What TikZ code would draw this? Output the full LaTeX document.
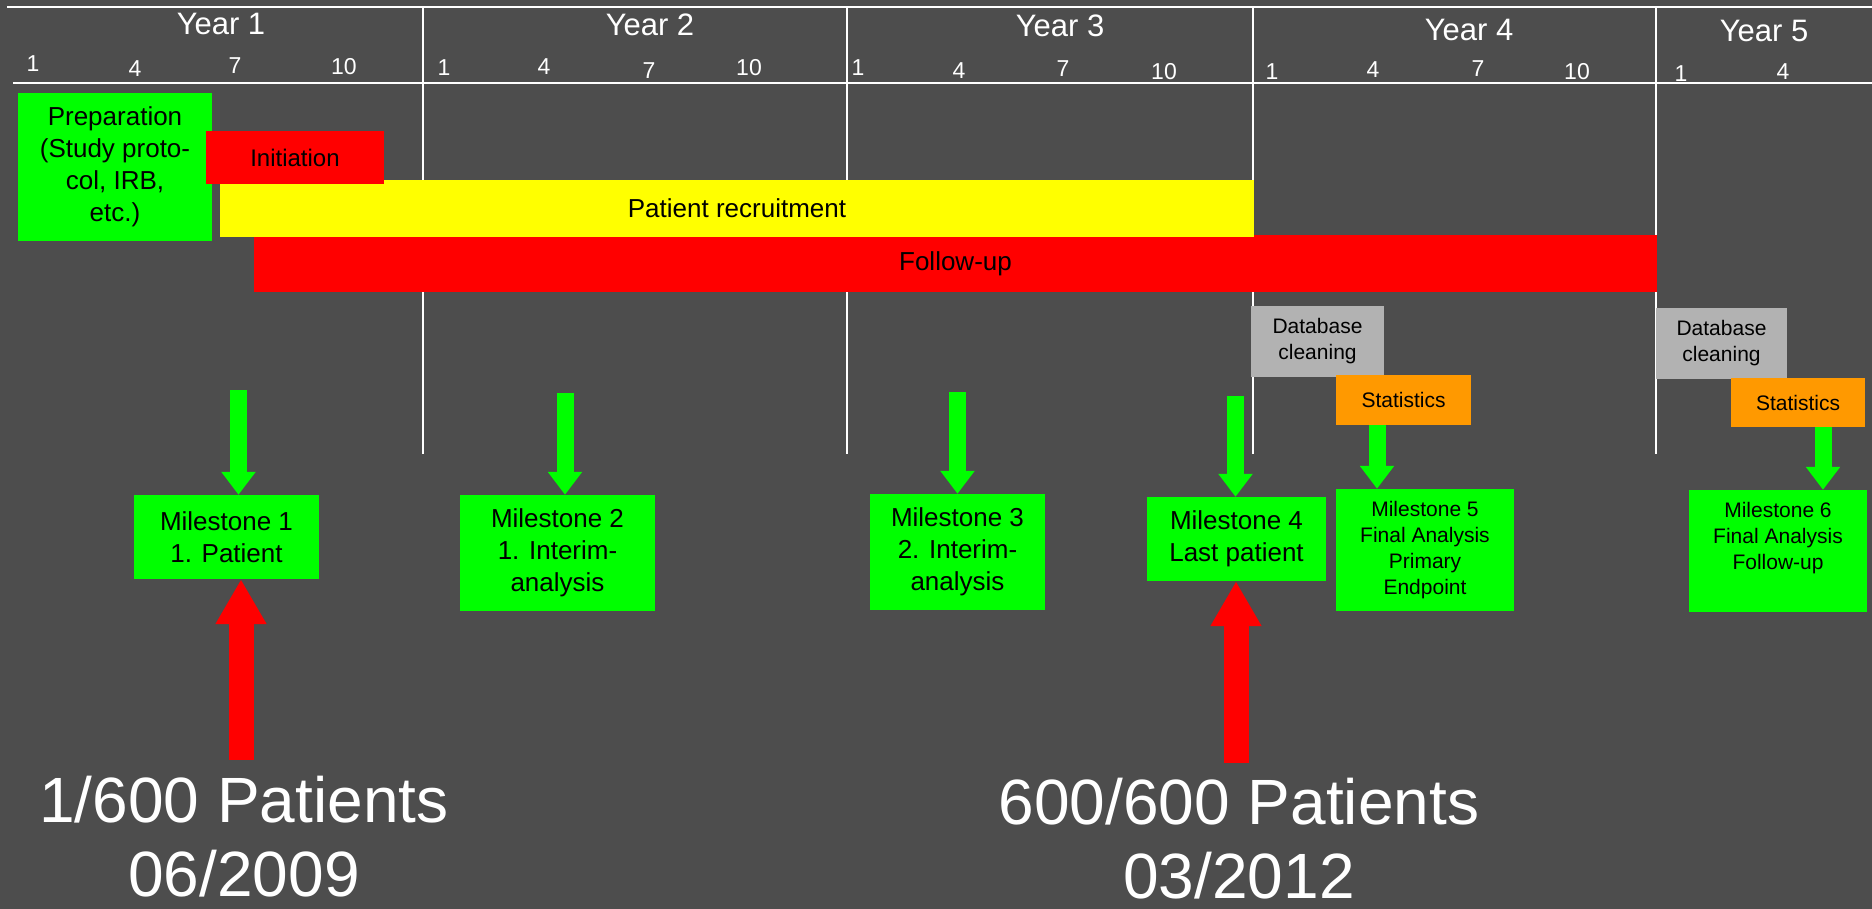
\documentclass[tikz,border=0pt]{standalone}
\usepackage{fontspec}
\setmainfont{Liberation Sans}
\usetikzlibrary{arrows.meta, positioning, calc}
\definecolor{slideGray}{RGB}{77,77,77}
\definecolor{msGreen}{RGB}{0,255,0}
\definecolor{barRed}{RGB}{255,0,0}
\definecolor{barYellow}{RGB}{255,255,0}
\definecolor{statOrange}{RGB}{255,153,0}
\definecolor{dbGray}{RGB}{178,178,178}

\newcommand{\fsz}[2]{\fontsize{#1}{#2}\selectfont}

\begin{document}
\begin{tikzpicture}[
            x=1pt, y=-1pt,
            % Grid and header
            grid/.style={draw=white, line width=2pt},
            yearlabel/.style={text=white, font=\fsz{31}{36}, anchor=base, inner sep=0pt},
            monthlabel/.style={text=white, font=\fsz{23}{27}, anchor=base, inner sep=0pt},
            % Boxes
            phase/.style={
                rectangle,
                inner sep=0pt,
                align=center,
                text=black,
                font=\fsz{26}{32}
            },
            milestone/.style={phase, fill=msGreen},
            smallbox/.style={phase, font=\fsz{21}{26}},
            bigtext/.style={text=white, align=center, inner sep=0pt, font=\fsz{64}{74}},
            % Arrows
            greenarrow/.style={draw=msGreen, line width=17pt, -{Triangle[width=33pt, length=23pt]}},
            redarrow/.style={draw=barRed, line width=25pt, -{Triangle[width=48pt, length=45pt]}}
        ]

        \fill[slideGray] (0,0) rectangle (1872,909);
        \useasboundingbox (0,0) rectangle (1872,909);

        % --- Time axis ---
        \draw[grid] (7,7) -- (1872,7);
        \draw[grid] (13,83) -- (1872,83);
        \foreach \x in {423,847,1253,1656}
            \draw[grid] (\x,7) -- (\x,454);

        \foreach \x/\y [count=\i] in {221/35, 650/36, 1060/37, 1469/41, 1764/42}
            \node[yearlabel] (year\i) at (\x,\y) {Year \i};

        \foreach \x/\y/\m [count=\i] in {33/72/1, 135/77/4, 235/74/7, 344/75/10,
                                         444/76/1, 544/75/4, 649/79/7, 749/76/10,
                                         858/76/1, 959/79/4, 1063/77/7, 1164/80/10,
                                         1272/80/1, 1373/78/4, 1478/77/7, 1577/80/10,
                                         1681/82/1, 1783/80/4}
            \node[monthlabel] (month\i) at (\x,\y) {\m};

        % --- Phases ---
        \node[phase, fill=msGreen, minimum width=194pt, minimum height=148pt] (prep) at (115,167)
            {Preparation\\(Study proto-\\col, IRB,\\etc.)};
        \node[phase, fill=barRed, minimum width=1403pt, minimum height=57pt] (followup) at (955.5,263.5) {Follow-up};
        \node[phase, fill=barYellow, minimum width=1034pt, minimum height=57pt] (recruit) at (737,208.5) {Patient recruitment};
        \node[phase, fill=barRed, font=\fsz{24}{28}, minimum width=178pt, minimum height=53pt] (init) at (295,157.5) {Initiation};

        \node[smallbox, fill=dbGray, minimum width=133pt, minimum height=71pt] (clean1) at (1317.5,341.5) {Database\\cleaning};
        \node[smallbox, fill=statOrange, minimum width=135pt, minimum height=50pt] (stats1) at (1403.5,400) {Statistics};
        \node[smallbox, fill=dbGray, minimum width=131pt, minimum height=71pt] (clean2) at (1721.5,343.5) {Database\\cleaning};
        \node[smallbox, fill=statOrange, minimum width=134pt, minimum height=49pt] (stats2) at (1798,402.5) {Statistics};

        % --- Milestones ---
        \node[milestone, minimum width=185pt, minimum height=84pt] (ms1) at (226.5,537) {Milestone 1\\1. Patient};
        \node[milestone, minimum width=195pt, minimum height=116pt] (ms2) at (557.5,553) {Milestone 2\\1. Interim-\\analysis};
        \node[milestone, minimum width=175pt, minimum height=116pt] (ms3) at (957.5,552) {Milestone 3\\2. Interim-\\analysis};
        \node[milestone, minimum width=179pt, minimum height=84pt] (ms4) at (1236.5,539) {Milestone 4\\Last patient};
        \node[milestone, font=\fsz{21}{26}, minimum width=178pt, minimum height=122pt] (ms5) at (1425,550)
            {Milestone 5\\Final Analysis\\Primary\\Endpoint};
        \node[milestone, font=\fsz{21}{26}, minimum width=178pt, minimum height=122pt] (ms6) at (1778,551)
            {Milestone 6\\Final Analysis\\Follow-up\\\phantom{Follow-up}};

        % --- Arrows ---
        \coordinate (g1) at (238.5,390);
        \coordinate (g2) at (565,393);
        \coordinate (g3) at (957.5,392);
        \coordinate (g4) at (1235.5,396);
        \draw[greenarrow] (g1) -- (g1 |- ms1.north);
        \draw[greenarrow] (g2) -- (g2 |- ms2.north);
        \draw[greenarrow] (g3) -- (g3 |- ms3.north);
        \draw[greenarrow] (g4) -- (g4 |- ms4.north);
        \draw[greenarrow] ([xshift=-26.5pt]stats1.south) -- ([xshift=-48pt]ms5.north);
        \draw[greenarrow] ([xshift=25pt]stats2.south) -- ([xshift=45pt]ms6.north);

        \coordinate (r1) at (241,760);
        \coordinate (r2) at (1236,763);
        \draw[redarrow] (r1) -- (r1 |- ms1.south);
        \draw[redarrow] (r2) -- (r2 |- ms4.south);

        % --- Patient counts ---
        \node[bigtext] (first) at (244,837) {1/600 Patients\\06/2009};
        \node[bigtext] (last) at (1239,839) {600/600 Patients\\03/2012};

        \end{tikzpicture}
\end{document}
